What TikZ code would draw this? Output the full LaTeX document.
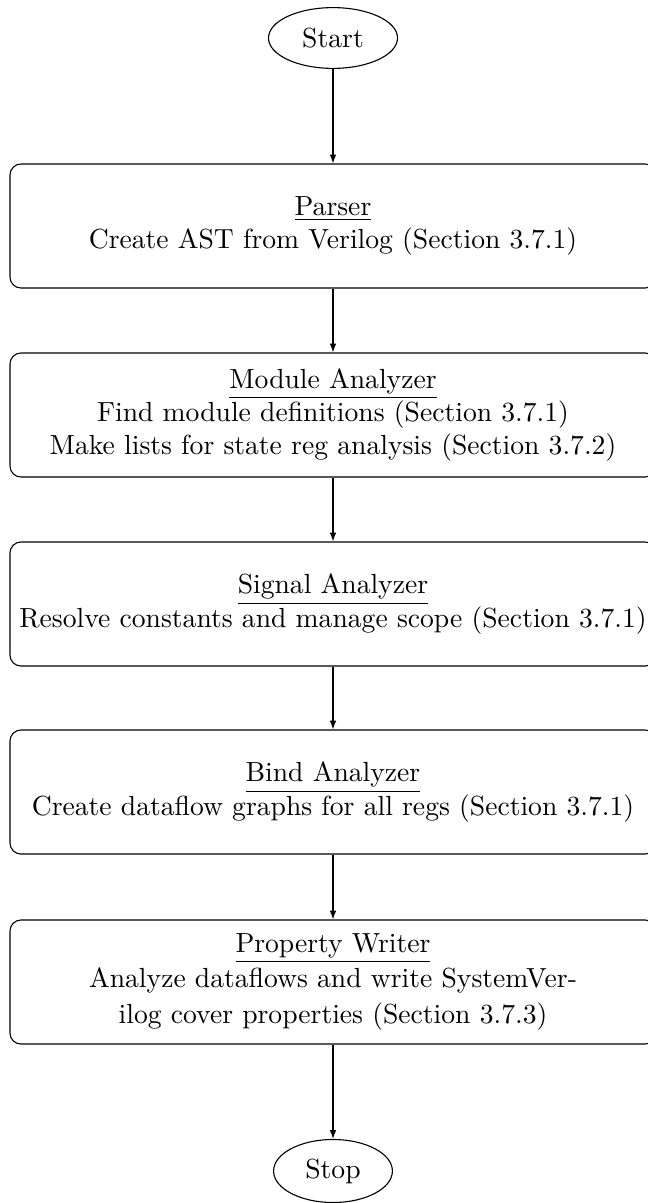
\documentclass[tikz,border=0pt]{standalone}
\usetikzlibrary{shapes.geometric,arrows.meta}
\begin{document}
\begin{tikzpicture}[x=0.3619pt,y=-0.3619pt,
  proc/.style={draw, line width=0.4pt, rounded corners=4pt, minimum width=233.8pt, minimum height=44.9pt, align=center, inner sep=0pt},
  term/.style={draw, line width=0.4pt, ellipse, inner sep=0pt},
  arr/.style={-{Latex[length=3.2pt,width=2.4pt]}, line width=0.4pt}]
\useasboundingbox (0,0) rectangle (647,1203);
\node[term, minimum width=46.7pt, minimum height=22pt] (start) at (333,38) {Start};
\node[proc] (parser) at (333,226) {\underline{Parser}\\Create AST from Verilog (Section 3.7.1)};
\node[proc] (module) at (333,415) {\underline{Module Analyzer}\\Find module definitions (Section 3.7.1)\\Make lists for state reg analysis (Section 3.7.2)};
\node[proc] (signal) at (333,604) {\underline{Signal Analyzer}\\Resolve constants and manage scope (Section 3.7.1)};
\node[proc] (bind) at (333,792) {\underline{Bind Analyzer}\\Create dataflow graphs for all regs (Section 3.7.1)};
\node[proc] (prop) at (333,982) {\underline{Property Writer}\\[1pt]Analyze dataflows and write SystemVer-\\[1pt]ilog cover properties (Section 3.7.3)};
\node[term, minimum width=43pt, minimum height=22.8pt] (stop) at (333,1171) {Stop};
\draw[arr] (start) -- (parser);
\draw[arr] (parser) -- (module);
\draw[arr] (module) -- (signal);
\draw[arr] (signal) -- (bind);
\draw[arr] (bind) -- (prop);
\draw[arr] (prop) -- (stop);
\end{tikzpicture}
\end{document}
